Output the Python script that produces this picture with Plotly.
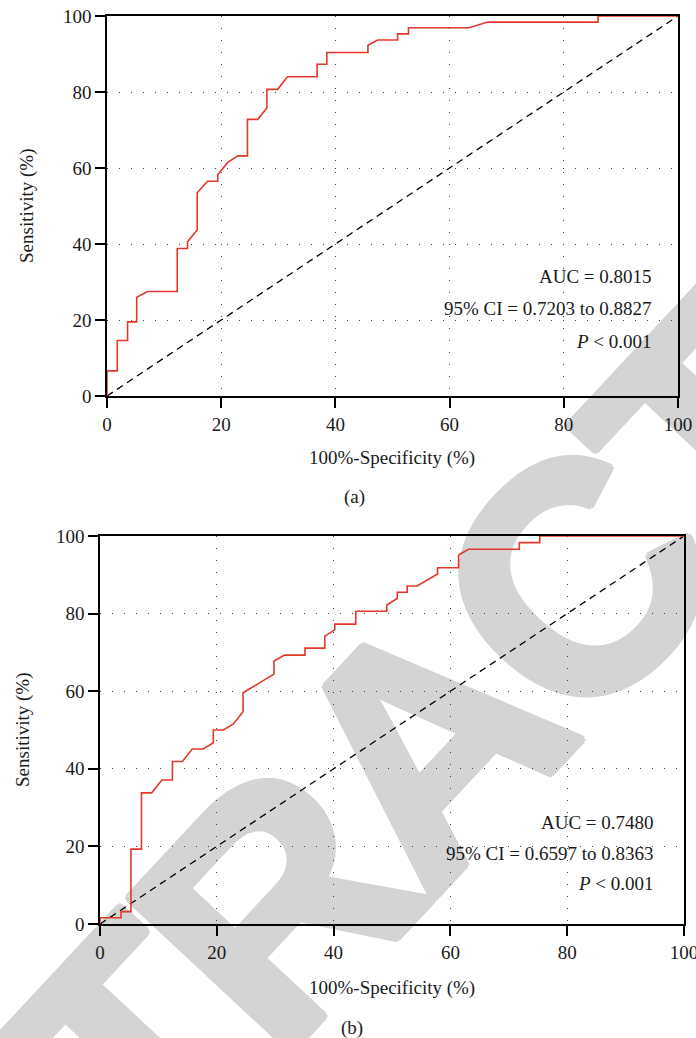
import math
import plotly.graph_objects as go

W, H = 696, 1038

# ---- data ----
fpr_a = [0, 0, 1.8, 1.8, 3.6, 3.6, 5.2, 5.2, 7.1, 12.3,
         12.3, 14.1, 14.1, 15.8, 15.8, 17.6, 19.4, 19.4, 21.1, 22.9,
         24.6, 24.6, 26.4, 28.0, 28.0, 29.9, 31.6, 36.8, 36.8, 38.5,
         38.5, 45.7, 45.7, 47.4, 50.9, 50.9, 52.8, 52.8, 63.4, 66.7,
         86.0, 86.0, 100]
tpr_a = [0, 6.6, 6.6, 14.6, 14.6, 19.5, 19.5, 26.0, 27.5, 27.5,
         38.8, 38.8, 40.6, 43.7, 53.5, 56.5, 56.5, 58.2, 61.4, 63.2,
         63.2, 72.8, 72.8, 75.8, 80.7, 80.7, 84.0, 84.0, 87.3, 87.3,
         90.4, 90.4, 92.3, 93.7, 93.7, 95.3, 95.3, 96.9, 96.9, 98.4,
         98.4, 100, 100]

fpr_b = [0, 0, 3.6, 3.6, 5.3, 5.3, 7.1, 7.1, 8.85, 10.6,
         12.4, 12.4, 14.1, 15.8, 17.7, 19.4, 19.4, 21.1, 22.8, 24.5,
         24.5, 29.8, 29.8, 31.6, 35.1, 35.1, 38.5, 38.5, 40.2, 40.2,
         43.8, 43.8, 49.1, 49.1, 50.9, 50.9, 52.6, 52.6, 54.3, 57.8,
         57.8, 61.4, 61.4, 63.1, 71.8, 71.8, 75.3, 75.3, 100]
tpr_b = [0, 1.6, 1.6, 3.2, 3.2, 19.3, 19.3, 33.8, 33.8, 37.1,
         37.1, 41.9, 41.9, 45.1, 45.1, 46.7, 50.0, 50.0, 51.5, 54.7,
         59.6, 64.4, 67.8, 69.3, 69.3, 71.1, 71.1, 74.2, 75.8, 77.3,
         77.3, 80.6, 80.6, 82.2, 83.9, 85.5, 85.5, 87.1, 87.1, 90.2,
         91.8, 91.8, 95.1, 96.6, 96.6, 98.3, 98.3, 100, 100]

ref_line = [0, 100]
tick_vals = [0, 20, 40, 60, 80, 100]
tick_text = ["0", "20", "40", "60", "80", "100"]

stats_a = ["AUC = 0.8015", "95% CI = 0.7203 to 0.8827", "<i>P</i> < 0.001"]
stats_b = ["AUC = 0.7480", "95% CI = 0.6597 to 0.8363", "<i>P</i> < 0.001"]

x_title = "100%-Specificity (%)"
y_title = "Sensitivity (%)"
panel_labels = ["(a)", "(b)"]
watermark = "RETRACTED"

# ---- styling ----
SERIF = "Liberation Serif"
RED = "#e2372b"
FS = 19
TXT = "#1a1a1a"
WM_COLOR = "#d4d4d4"
# relative advance widths (bold sans) used to space the watermark letters
WM_ADV = {"R": 0.722, "E": 0.667, "T": 0.611, "A": 0.722, "C": 0.722, "D": 0.722}


def px(x):
    return x / W


def py(y):
    return 1 - y / H


fig = go.Figure()

for i, (fx, ty) in enumerate([(fpr_a, tpr_a), (fpr_b, tpr_b)]):
    xa = "x" if i == 0 else "x2"
    ya = "y" if i == 0 else "y2"
    fig.add_trace(go.Scatter(x=ref_line, y=ref_line, mode="lines",
                             line=dict(color="black", width=1.3, dash="7px,5px"),
                             xaxis=xa, yaxis=ya, showlegend=False, hoverinfo="skip"))
    fig.add_trace(go.Scatter(x=fx, y=ty, mode="lines",
                             line=dict(color=RED, width=1.6),
                             xaxis=xa, yaxis=ya, showlegend=False))

axis_common = dict(
    range=[0, 100], tickvals=tick_vals, ticktext=tick_text,
    showline=True, linecolor="black", linewidth=1.5, mirror=True,
    ticks="outside", ticklen=10, tickwidth=1.5, tickcolor="black",
    showgrid=True, gridcolor="#444", gridwidth=1.2, griddash="1.2px,10.8px",
    zeroline=False, automargin=False, ticklabeloverflow="allow",
    tickfont=dict(family=SERIF, size=FS, color=TXT),
    fixedrange=True,
)

fig.update_layout(
    width=W, height=H, autosize=False,
    margin=dict(l=0, r=0, t=0, b=0),
    paper_bgcolor="white", plot_bgcolor="rgba(0,0,0,0)",
    xaxis=dict(domain=[px(107), px(678)], anchor="y", **axis_common),
    yaxis=dict(domain=[py(396), py(16)], anchor="x", **axis_common),
    xaxis2=dict(domain=[px(100), px(684)], anchor="y2", **axis_common),
    yaxis2=dict(domain=[py(924), py(536)], anchor="x2", **axis_common),
)

ann = []
# axis titles and panel labels
for cx, cy, lx, ly, plab, plx, ply in [
    (392, 458, 27, 206, panel_labels[0], 354, 497),
    (392, 988, 23, 730, panel_labels[1], 352, 1028),
]:
    ann.append(dict(text=x_title, x=px(cx), y=py(cy), xref="paper", yref="paper",
                    showarrow=False, xanchor="center", yanchor="middle",
                    font=dict(family=SERIF, size=FS, color=TXT)))
    ann.append(dict(text=y_title, x=px(lx), y=py(ly), xref="paper", yref="paper",
                    showarrow=False, xanchor="center", yanchor="middle", textangle=-90,
                    font=dict(family=SERIF, size=FS, color=TXT)))
    ann.append(dict(text=plab, x=px(plx), y=py(ply), xref="paper", yref="paper",
                    showarrow=False, xanchor="center", yanchor="middle",
                    font=dict(family=SERIF, size=FS, color=TXT)))

for stats, rx, ys in [(stats_a, 654, [276, 309, 341]), (stats_b, 656, [822, 853, 883])]:
    for t, yy in zip(stats, ys):
        ann.append(dict(text=t, x=px(rx), y=py(yy), xref="paper", yref="paper",
                        showarrow=False, xanchor="right", yanchor="middle",
                        font=dict(family=SERIF, size=FS, color=TXT)))

fig.update_layout(annotations=ann)

# watermark drawn beneath grid and traces, letter by letter (condensed spacing)
ang = 47.0
cx0, cy0 = 403, 721          # centre of the middle letter
step = 306                    # px per unit advance
rx_, ry_ = math.cos(math.radians(ang)), -math.sin(math.radians(ang))
adv = [WM_ADV[ch] for ch in watermark]
centres = []
acc = 0.0
for a in adv:
    centres.append(acc + a / 2)
    acc += a
mid = centres[len(watermark) // 2]
d = 4
shadow = ", ".join(f"{sx}px {sy}px 0 {WM_COLOR}" for sx, sy in
                   [(d, 0), (-d, 0), (0, d), (0, -d), (3, 3), (-3, -3), (3, -3), (-3, 3)])
for ch, c in zip(watermark, centres):
    off = (c - mid) * step
    lx_, ly_ = cx0 + off * rx_, cy0 + off * ry_
    fig.add_shape(type="rect", xref="paper", yref="paper",
                  x0=px(lx_ - 2), x1=px(lx_ + 2), y0=py(ly_ + 2), y1=py(ly_ - 2),
                  line=dict(width=0), fillcolor="rgba(0,0,0,0)", layer="below",
                  label=dict(text=ch, textangle=-ang, textposition="middle center",
                             font=dict(family="Liberation Sans", size=325,
                                       color=WM_COLOR, weight="bold", shadow=shadow)))

fig.write_html("out.html", config={"displayModeBar": False},
               post_script="document.body.style.margin='0px';")
